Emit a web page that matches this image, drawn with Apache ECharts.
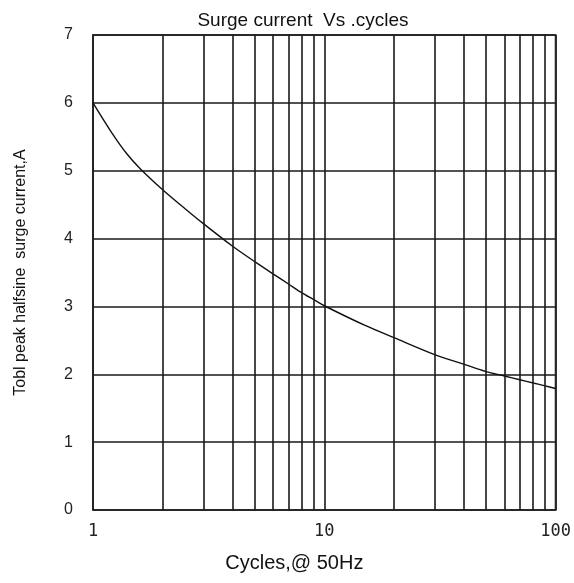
<!DOCTYPE html>
<html><head><meta charset="utf-8">
<script src="https://cdn.jsdelivr.net/npm/echarts@6/dist/echarts.min.js"></script>
<style>html,body{margin:0;padding:0;background:#fff}#c{width:574px;height:583px}</style>
</head><body><div id="c"></div>
<script>
const cycles = [1, 1.2, 1.4, 1.6, 2, 2.5, 3, 4, 5, 6, 7, 8, 9, 10, 15, 20, 30, 40, 50, 60, 70, 80, 90, 100];
const current = [6.0, 5.57, 5.25, 5.03, 4.72, 4.44, 4.22, 3.89, 3.66, 3.48, 3.33, 3.20, 3.10, 3.01, 2.72, 2.54, 2.29, 2.15, 2.04, 1.975, 1.92, 1.872, 1.83, 1.79];
const minorGrid = [2, 3, 4, 5, 6, 7, 8, 9, 20, 30, 40, 50, 60, 70, 80, 90];
const yTicks = [0, 1, 2, 3, 4, 5, 6, 7];
const titleText = 'Surge current  Vs .cycles';
const xName = 'Cycles,@ 50Hz';
const yName = 'Tobl peak halfsine  surge current,A';

const chart = echarts.init(document.getElementById('c'));
const gridLine = {color: '#1a1a1a', width: 1.6};
chart.setOption({
  animation: false,
  title: {text: titleText, left: 298, top: 6, textAlign: 'center',
    textStyle: {fontFamily: 'Liberation Sans, Arial', fontSize: 19, fontWeight: 'normal', color: '#111'}},
  grid: {left: 93, right: 17, top: 35, bottom: 73, show: true, borderColor: '#555', borderWidth: 2},
  xAxis: {type: 'log', logBase: 10, min: 1, max: 100,
    name: xName, nameLocation: 'middle', nameGap: 43,
    nameTextStyle: {fontFamily: 'Liberation Sans, Arial', fontSize: 20, color: '#111', padding: [0, 60, 0, 0]},
    axisLine: {show: false}, axisTick: {show: false},
    axisLabel: {margin: 13, fontFamily: 'DejaVu Sans Mono, monospace', fontSize: 17, color: '#222'},
    splitLine: {show: true, lineStyle: gridLine}},
  yAxis: {type: 'value', min: 0, max: 7, interval: 1,
    name: yName, nameLocation: 'middle', nameGap: 64, nameRotate: 90,
    nameTextStyle: {fontFamily: 'Liberation Sans, Arial', fontSize: 16, color: '#111'},
    axisLine: {show: false}, axisTick: {show: false},
    axisLabel: {margin: 20, fontFamily: 'Liberation Sans, Arial', fontSize: 16, color: '#222',
      formatter: v => yTicks.includes(v) ? String(v) : ''},
    splitLine: {show: true, lineStyle: gridLine}},
  series: [{
    type: 'line', data: cycles.map((c, i) => [c, current[i]]),
    smooth: 0.3, showSymbol: false, symbol: 'none',
    lineStyle: {color: '#111', width: 1.4},
    markLine: {silent: true, symbol: ['none', 'none'], label: {show: false},
      lineStyle: {color: '#1a1a1a', width: 1.6, type: 'solid'},
      data: minorGrid.map(v => ({xAxis: v}))}
  }]
});
</script></body></html>
